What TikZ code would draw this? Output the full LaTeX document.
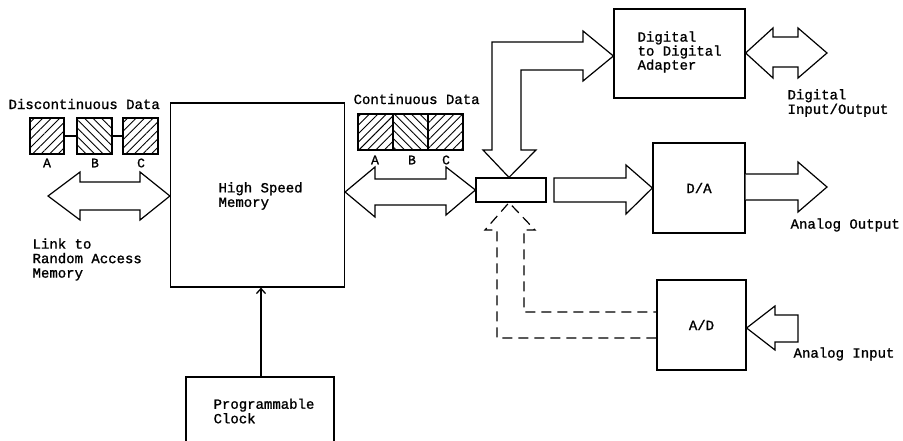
\documentclass[tikz,border=0pt]{standalone}
\usepackage{fontspec}
\newfontfamily\plotfont[FakeBold=1.2]{Liberation Mono}
\usetikzlibrary{arrows.meta,patterns.meta}
\begin{document}
\begin{tikzpicture}[x=1pt,y=-1pt, line width=1.2pt, line join=miter,
  box/.style={draw, line width=1.2pt, inner sep=0pt},
  lbl/.style={font=\plotfont\fontsize{14}{14.5}\selectfont, anchor=west, align=left, inner sep=0pt},
  tight/.style={font=\plotfont\fontsize{14}{12.8}\selectfont},
  abc/.style={font=\plotfont\fontsize{13}{14}\selectfont, inner sep=0pt},
  fat/.style={draw, line width=1.2pt, fill=white},
  dashedfat/.style={draw, line width=1.2pt, dash pattern=on 10pt off 6pt},
  hatchR/.style={draw, line width=1.2pt, pattern={Lines[angle=45,distance=6pt,line width=0.9pt]}},
  hatchL/.style={draw, line width=1.2pt, pattern={Lines[angle=-45,distance=6pt,line width=0.9pt]}}]
\clip (0,0) rectangle (903,441);
\fill[white] (0,0) rectangle (903,441);

% main boxes
\node[box, minimum width=174pt, minimum height=184pt] (hsm) at (257.5,195) {};
\node[box, minimum width=70pt, minimum height=24pt] (mux) at (511,190) {};
\node[box, minimum width=131pt, minimum height=89pt] (dda) at (679.5,53.5) {};
\node[box, minimum width=92pt, minimum height=90pt] (da) at (699,188) {};
\node[box, minimum width=89pt, minimum height=90pt] (ad) at (701.5,325) {};
\node[box, minimum width=148pt, minimum height=80pt] (clock) at (260,417) {};

% box texts
\node[lbl] (hsmtxt) at (218,196) {High Speed\\Memory};
\node[lbl, tight] (ddatxt) at (637,52) {Digital\\to Digital\\Adapter};
\node[inner sep=0pt, font=\plotfont\fontsize{14}{14}\selectfont] (datxt) at (da.center) {D/A};
\node[inner sep=0pt, font=\plotfont\fontsize{14}{14}\selectfont] (adtxt) at (ad.center) {A/D};
\node[lbl] (clocktxt) at (213,411) {Programmable\\Clock};

% outside labels
\node[lbl] (disc) at (8,104) {Discontinuous Data};
\node[lbl] (cont) at (353,99) {Continuous Data};
\node[lbl] (link) at (32,259.5) {Link to\\Random Access\\Memory};
\node[lbl] (dio) at (787,103) {Digital\\Input/Output};
\node[lbl] (aout) at (790,225) {Analog Output};
\node[lbl] (ain) at (793,354) {Analog Input};

% discontinuous data blocks
\node[hatchR, minimum width=34pt, minimum height=36pt, inner sep=0pt] (dA) at (47,136) {};
\node[hatchL, minimum width=35pt, minimum height=36pt, inner sep=0pt] (dB) at (94.5,136) {};
\node[hatchR, minimum width=35pt, minimum height=36pt, inner sep=0pt] (dC) at (140.5,136) {};
\draw (dA.east) -- (dB.west);
\draw (dB.east) -- (dC.west);
\node[abc] (ldA) at (47,163) {A};
\node[abc] (ldB) at (95,163) {B};
\node[abc] (ldC) at (141,163) {C};

% continuous data blocks
\node[hatchR, minimum width=35pt, minimum height=36pt, inner sep=0pt] (cA) at (375.5,132) {};
\node[hatchL, minimum width=35pt, minimum height=36pt, inner sep=0pt] (cB) at (410.5,132) {};
\node[hatchR, minimum width=35pt, minimum height=36pt, inner sep=0pt] (cC) at (445.5,132) {};
\node[abc] (lcA) at (375,160) {A};
\node[abc] (lcB) at (412,160) {B};
\node[abc] (lcC) at (446,160) {C};

% link to random access memory (double arrow)
\draw[fat] (48,196) -- (80,172) -- (80,182) -- (140,182) -- (140,172) -- (hsm.west |- 0,196)
  -- (140,220) -- (140,210) -- (80,210) -- (80,220) -- cycle;

% HSM <-> mux
\draw[fat] (hsm.east |- 0,192) -- (375,167) -- (375,179) -- (446,179) -- (446,167) -- (mux.west)
  -- (446,215) -- (446,205) -- (375,205) -- (375,217) -- cycle;

% mux -> D/A
\draw[fat] (554,178) -- (626,178) -- (626,165) -- (da.west) -- (626,214) -- (626,202) -- (554,202) -- cycle;

% D/A -> analog output
\draw[fat] (da.east |- 0,174) -- (798,174) -- (798,162) -- (827,187) -- (798,212) -- (798,200) -- (da.east |- 0,200);

% digital input/output
\draw[fat] (dda.east |- 0,53) -- (773,28) -- (773,37) -- (798,37) -- (798,28) -- (827,53)
  -- (798,78) -- (798,67) -- (773,67) -- (773,78) -- cycle;

% elbow arrow mux <-> digital adapter
\draw[fat] (mux.north -| 509,0) -- (483,150) -- (492,150) -- (492,42) -- (583,42) -- (583,31)
  -- (dda.west |- 0,56) -- (583,81) -- (583,70) -- (521,70) -- (521,150) -- (536,150) -- cycle;

% dashed A/D -> mux
\draw[dashedfat] (ad.west |- 0,338) -- (497,338) -- (497,230) -- (485,230) -- (mux.south -| 509,0)
  -- (535,230) -- (524,230) -- (524,312) -- (ad.west |- 0,312);

% analog input
\draw[fat] (ad.east |- 0,328) -- (775,306) -- (775,315) -- (798,315) -- (798,342) -- (775,342) -- (775,350) -- cycle;

% clock -> memory
\draw[-{Straight Barb[length=5pt,width=9pt]}, line width=1.3pt] (clock.north -| 261,0) -- (hsm.south -| 261,0);
\end{tikzpicture}
\end{document}
